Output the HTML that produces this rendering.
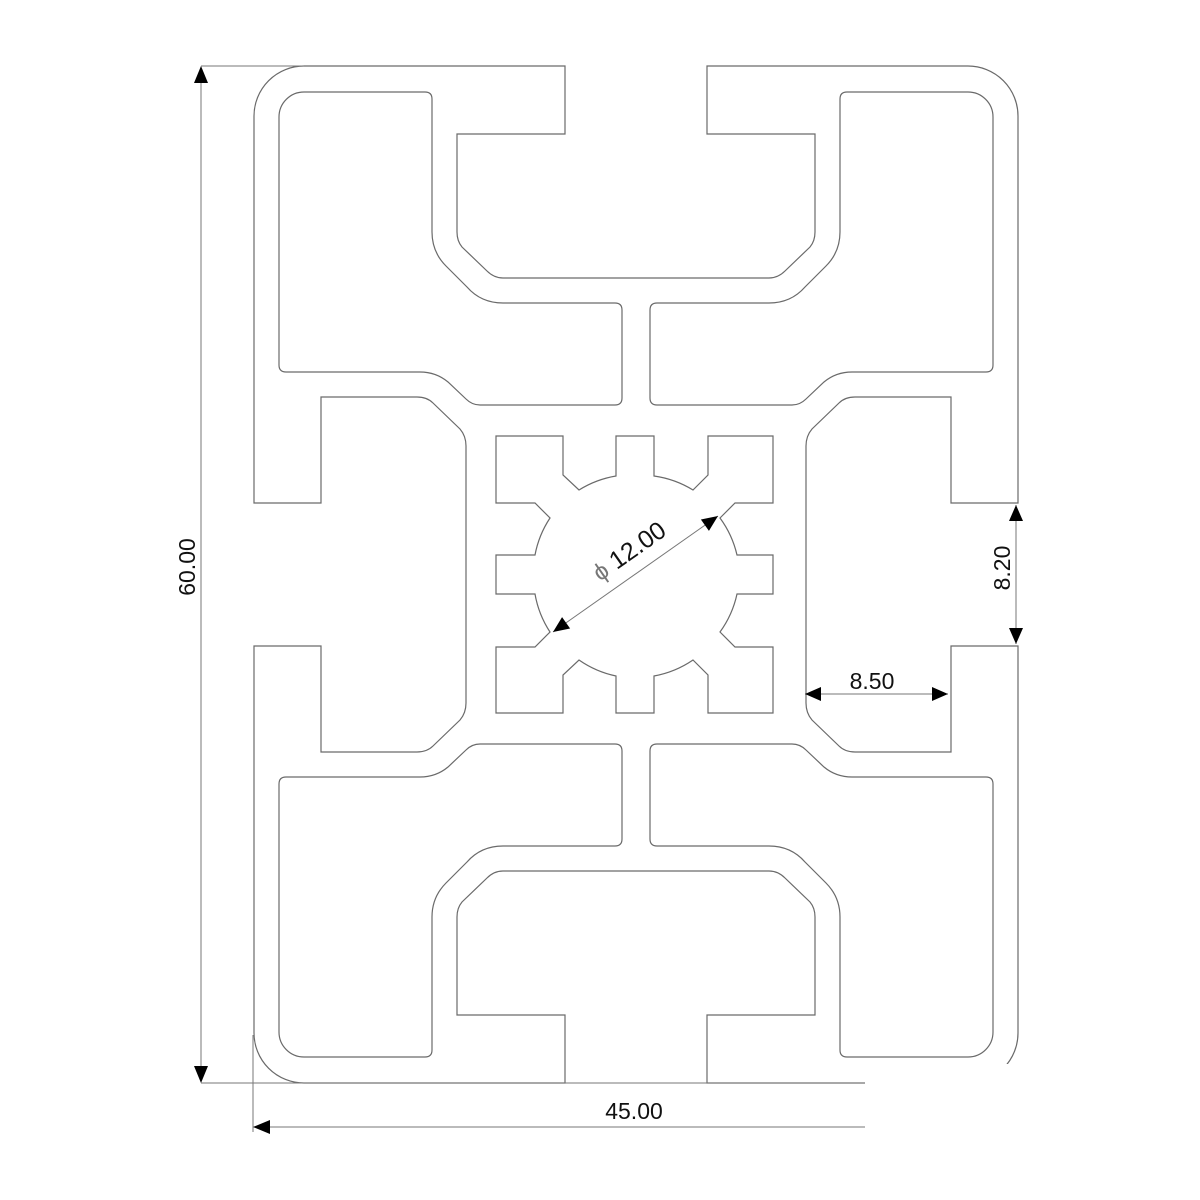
<!DOCTYPE html>
<html><head><meta charset="utf-8"><style>
html,body{margin:0;padding:0;background:#fff;}
svg{display:block}
text{font-family:"Liberation Sans",sans-serif;fill:#111;}
</style></head><body>
<svg width="1200" height="1200" viewBox="0 0 1200 1200" xmlns="http://www.w3.org/2000/svg">
<defs>
<g id="q" fill="none" stroke="#6a6a6a" stroke-width="1.2">
  <path d="M636,278 H503 Q494,278 487,271 L462,247 Q457,241 457,232 V134 H565 V66 H304 A50,50 0 0 0 254,116 V503 H321 V397 H417 Q427,397 433,403 L460,429 Q466,436 466,446 V574.5"/>
  <path d="M304,92 H425 Q432,92 432,99 V232 Q432,252 446,266 L467,287 Q481,303 503,303 H615 Q622,303 622,310 V398 Q622,405 615,405 H480 Q472,405 466,399 L448,382 Q436,372 420,372 H286 Q279,372 279,365 V117 A25,25 0 0 1 304,92 Z"/>
</g>
</defs>
<use href="#q"/>
<use href="#q" transform="translate(1272,0) scale(-1,1)"/>
<use href="#q" transform="translate(0,1149) scale(1,-1)"/>
<use href="#q" transform="translate(1272,1149) scale(-1,-1)"/>
<path fill="none" stroke="#6a6a6a" stroke-width="1.2" d="M496,436 H563 V475 L579,490 A101,101 0 0 1 616,476 V436 H654 V476 A101,101 0 0 1 693,490 L708,475 V436 H773 V503 H735 L720,518 A101,101 0 0 1 737,555 H773 V594 H737 A101,101 0 0 1 720,632 L735,647 H773 V713 H708 V675 L693,660 A101,101 0 0 1 654,676 V713 H616 V676 A101,101 0 0 1 579,660 L563,675 V713 H496 V647 H535 L550,632 A101,101 0 0 1 535,594 H496 V555 H535 A101,101 0 0 1 550,518 L535,503 H496 Z"/>
<g stroke="#777" stroke-width="1" fill="none">
  <line x1="201" y1="66" x2="304" y2="66"/>
  <line x1="201" y1="1083" x2="865" y2="1083"/>
  <line x1="201" y1="70" x2="201" y2="1080"/>
  <line x1="253" y1="1035" x2="253" y2="1132"/>
  <line x1="256" y1="1127" x2="865" y2="1127"/>
  <line x1="1016" y1="505" x2="1016" y2="644"/>
  <line x1="805" y1="694" x2="948" y2="694"/>
  <line x1="553" y1="632" x2="718" y2="516"/>
</g>
<rect x="865" y="1064" width="335" height="136" fill="#fff"/>
<g fill="#000">
  <polygon points="201,66 194,83 208,83"/>
  <polygon points="201,1083 194,1066 208,1066"/>
  <polygon points="253,1127 270,1120 270,1134"/>
  <polygon points="1016,505 1009,521 1023,521"/>
  <polygon points="1016,644 1009,628 1023,628"/>
  <polygon points="805,694 821,687 821,701"/>
  <polygon points="948,694 932,687 932,701"/>
  <g transform="translate(718,516) rotate(-35.1)"><polygon points="0,0 -16,-7 -16,7"/></g>
  <g transform="translate(553,632) rotate(144.9)"><polygon points="0,0 -16,-7 -16,7"/></g>
</g>
<text x="634" y="1119" font-size="23" text-anchor="middle">45.00</text>
<text x="872" y="689" font-size="23" text-anchor="middle">8.50</text>
<text transform="translate(1010,568) rotate(-90)" font-size="23" text-anchor="middle">8.20</text>
<text transform="translate(195,567) rotate(-90)" font-size="23" text-anchor="middle">60.00</text>
<text transform="translate(634,558) rotate(-35.1)" font-size="25" text-anchor="middle"><tspan font-size="24" fill="#777">ϕ</tspan> 12.00</text>
</svg>
</body></html>
